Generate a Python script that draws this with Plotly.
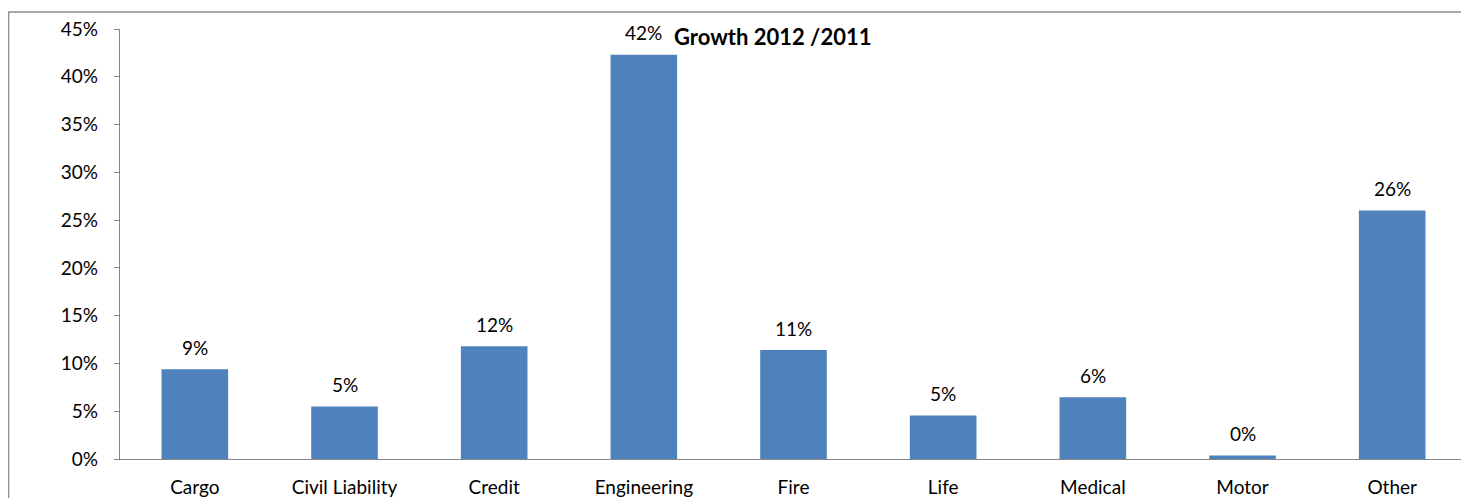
import plotly.graph_objects as go

categories = ["Cargo", "Civil Liability", "Credit", "Engineering", "Fire", "Life", "Medical", "Motor", "Other"]
growth = [0.094, 0.055, 0.118, 0.423, 0.114, 0.0455, 0.0647, 0.0036, 0.260]
labels = ["9%", "5%", "12%", "42%", "11%", "5%", "6%", "0%", "26%"]
y_ticks = [0, 0.05, 0.10, 0.15, 0.20, 0.25, 0.30, 0.35, 0.40, 0.45]
y_ticklabels = ["0%", "5%", "10%", "15%", "20%", "25%", "30%", "35%", "40%", "45%"]
title_text = "Growth 2012 /2011"

FONT = "Lato"
# page body has an 8px margin, so the figure is sized/offset to compensate
W, H = 1461, 490
ML, MR, MT, MB = 112, 2, 21, 39

fig = go.Figure()
fig.add_trace(go.Bar(
    x=categories, y=growth,
    marker=dict(color="#4F81BD", line=dict(width=0)),
    width=0.445,
    hoverinfo="skip",
))

for c, v, t in zip(categories, growth, labels):
    fig.add_annotation(x=c, y=v, text=t, showarrow=False, xanchor="center",
                       yanchor="middle", yshift=22,
                       font=dict(family=FONT, size=19, color="#000000"))

pw = W - ML - MR
ph = H - MT - MB
fig.add_annotation(xref="paper", yref="paper", x=(764 - ML) / pw, y=(H - MB - 28) / ph,
                   text="<b>" + title_text + "</b>", showarrow=False,
                   xanchor="center", yanchor="middle",
                   font=dict(family=FONT, size=22, color="#000000"))

# chart-area border (top and left visible)
fig.add_shape(type="rect", xref="paper", yref="paper",
              x0=(0.7 - ML) / pw, x1=1.2, y0=-0.3, y1=(H - MB - 4) / ph,
              line=dict(color="#8C8C8C", width=1.3), fillcolor="rgba(0,0,0,0)", layer="below")

fig.update_layout(
    width=W, height=H,
    margin=dict(l=ML, r=MR, t=MT, b=MB, pad=0, autoexpand=False),
    paper_bgcolor="white", plot_bgcolor="white",
    showlegend=False,
    font=dict(family=FONT, size=19, color="#000000"),
    xaxis=dict(
        type="category", range=[-0.5, 8.5],
        showline=True, linecolor="#868686", linewidth=1.3,
        ticks="", showgrid=False, zeroline=False,
        ticklabelstandoff=11, automargin=False,
        tickfont=dict(family=FONT, size=19, color="#000000"),
        fixedrange=True,
    ),
    yaxis=dict(
        range=[0, 0.45], tickvals=y_ticks, ticktext=y_ticklabels,
        showline=True, linecolor="#868686", linewidth=1.3,
        ticks="outside", ticklen=5, tickcolor="#868686", tickwidth=1.3,
        ticklabelstandoff=12, automargin=False,
        showgrid=False, zeroline=False,
        tickfont=dict(family=FONT, size=19, color="#000000"),
        fixedrange=True,
    ),
)

fig.write_html("out.html")
